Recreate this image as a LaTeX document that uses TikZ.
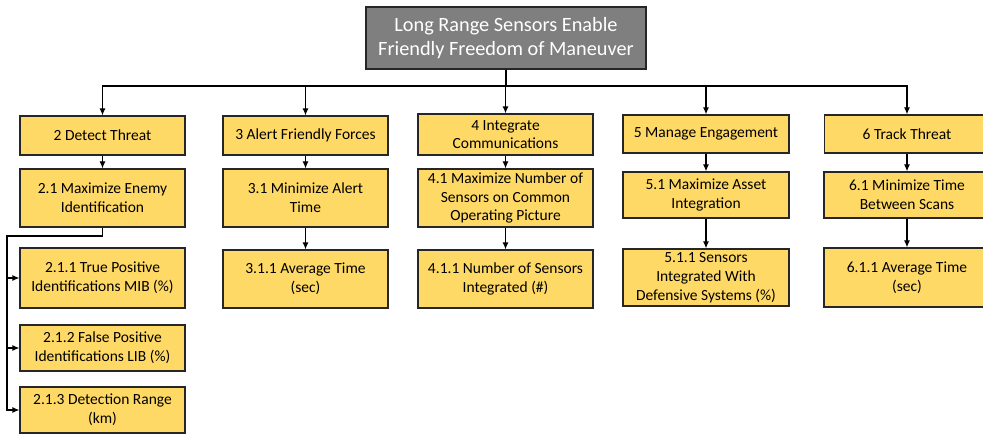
\documentclass[tikz,border=0pt]{standalone}
\usepackage{fontspec}
\setmainfont{Carlito}
\usetikzlibrary{arrows.meta}
\definecolor{boxyellow}{HTML}{FFD966}
\definecolor{topgray}{HTML}{7F7F7F}
\begin{document}
\begin{tikzpicture}[x=1pt,y=-1pt,
  goal/.style={draw=black!85,line width=1.2pt,fill=topgray,text=white,
    minimum width=280pt,minimum height=62pt,align=center,inner sep=0pt,
    font=\fontsize{20.3}{24}\selectfont},
  obj/.style={draw=black!85,line width=1.2pt,fill=boxyellow,align=center,
    inner sep=0pt,minimum width=165pt,font=\fontsize{15.5}{18.8}\selectfont},
  arr/.style={-{Latex[length=7pt,width=6pt]},line width=1.2pt}]
  \useasboundingbox (0,0) rectangle (983,435);
  \node[goal] (lrs) at (506,38) {Long Range Sensors Enable\\Friendly Freedom of Maneuver};
  % first level
  \node[obj,minimum height=39pt] (dt) at (102.5,135.5) {2 Detect Threat};
  \node[obj,minimum height=39pt] (aff) at (305.5,135.5) {3 Alert Friendly Forces};
  \node[obj,minimum width=175pt,minimum height=41pt] (ic) at (505.5,134.5) {4 Integrate\\Communications};
  \node[obj,minimum width=166pt,minimum height=38pt] (me) at (706,134) {5 Manage Engagement};
  \node[obj,minimum height=38pt] (tt) at (907,134) {6 Track Threat};
  % second level
  \node[obj,minimum height=58pt] (mei) at (102.5,198) {2.1 Maximize Enemy\\Identification};
  \node[obj,minimum height=58pt] (mat) at (305.5,198) {3.1 Minimize Alert\\Time};
  \node[obj,minimum width=175pt,minimum height=58pt] (mns) at (505.5,198) {4.1 Maximize Number of\\Sensors on Common\\Operating Picture};
  \node[obj,minimum width=166pt,minimum height=46pt] (mai) at (706,195) {5.1 Maximize Asset\\Integration};
  \node[obj,minimum width=166pt,minimum height=46pt] (mtb) at (907,195) {6.1 Minimize Time\\Between Scans};
  % measures
  \node[obj,minimum height=60pt] (tpi) at (102.5,278) {2.1.1 True Positive\\Identifications MIB (\%)};
  \node[obj,minimum height=46pt] (fpi) at (102.5,348) {2.1.2 False Positive\\Identifications LIB (\%)};
  \node[obj,minimum height=46pt] (dr) at (102.5,410) {2.1.3 Detection Range\\(km)};
  \node[obj,minimum height=58pt] (att) at (305.5,279) {3.1.1 Average Time\\(sec)};
  \node[obj,minimum width=175pt,minimum height=58pt] (nsi) at (505.5,279) {4.1.1 Number of Sensors\\Integrated (\#)};
  \node[obj,minimum width=166pt,minimum height=57pt] (sid) at (706,277.5) {5.1.1 Sensors\\Integrated With\\Defensive Systems (\%)};
  \node[obj,minimum width=166pt,minimum height=59pt] (ats) at (907,277.5) {6.1.1 Average Time\\(sec)};
  % connectors
  \coordinate (bus) at (506,86);
  \coordinate (spine) at (7,236);
  \foreach \n in {dt,aff,ic,me,tt}
    \draw[arr] (lrs.south) |- (bus -| \n.north) -- (\n.north);
  \foreach \a/\b in {dt/mei,aff/mat,ic/mns,me/mai,tt/mtb,mat/att,mns/nsi,mai/sid,mtb/ats}
    \draw[arr] (\a.south) -- (\b.north);
  \foreach \n in {tpi,fpi,dr}
    \draw[arr] (mei.south) |- (spine) |- (\n.west);
\end{tikzpicture}
\end{document}
